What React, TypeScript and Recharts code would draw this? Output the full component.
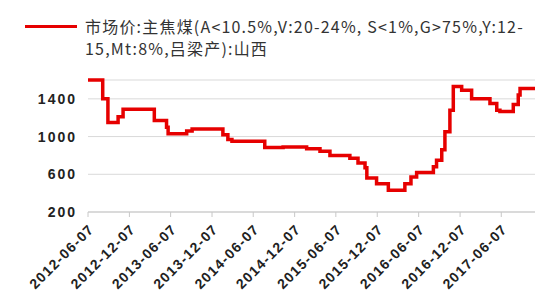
import React from 'react';
import { LineChart, Line, XAxis, YAxis, CartesianGrid } from 'recharts';

document.body.style.margin = '0';

// price change points (step series)
const changeDates = [
  '2012-06-07', '2012-08-11', '2012-09-03', '2012-10-18', '2012-11-09',
  '2013-03-27', '2013-05-20', '2013-05-27', '2013-08-17', '2013-09-10',
  '2014-01-24', '2014-02-15', '2014-03-05', '2014-07-28', '2014-10-17',
  '2015-01-29', '2015-03-29', '2015-05-12', '2015-08-08', '2015-09-13',
  '2015-10-14', '2015-10-22', '2015-12-04', '2016-01-25', '2016-04-07',
  '2016-05-04', '2016-05-29', '2016-08-11', '2016-08-25', '2016-09-17',
  '2016-10-01', '2016-10-23', '2016-11-07', '2016-12-14', '2017-01-27',
  '2017-04-18', '2017-05-18', '2017-06-01', '2017-07-30', '2017-08-21',
  '2017-08-29', '2017-11-03',
];
const prices = [
  1600, 1400, 1150, 1210, 1290,
  1170, 1100, 1030, 1060, 1080,
  1020, 970, 950, 885, 890,
  870, 845, 800, 770, 720,
  670, 560, 500, 430, 500,
  570, 620, 680, 750, 860,
  1050, 1280, 1530, 1490, 1400,
  1350, 1280, 1265, 1340, 1440,
  1510, 1510,
];

const tickDates = [
  '2012-06-07', '2012-12-07', '2013-06-07', '2013-12-07', '2014-06-07', '2014-12-07',
  '2015-06-07', '2015-12-07', '2016-06-07', '2016-12-07', '2017-06-07',
];
const yTicks = [200, 600, 1000, 1400];

const seriesName = '市场价:主焦煤(A<10.5%,V:20-24%, S<1%,G>75%,Y:12-';
const seriesName2 = '15,Mt:8%,吕梁产):山西';

const toTs = (s: string) => new Date(s).getTime();
const data = changeDates.map((d, i) => ({ t: toTs(d), price: prices[i] }));
const xTicks = tickDates.map(toTs);

const DateTick = (props: any) => {
  const { x, y, payload } = props;
  const label = new Date(payload.value).toISOString().slice(0, 10);
  const ax = x + 7;
  const ay = y + 11;
  return (
    <text
      x={ax}
      y={ay}
      textAnchor="end"
      transform={`rotate(-45 ${ax} ${ay})`}
      fontSize={14}
      fontWeight="bold"
      letterSpacing={1.3}
      fill="#222"
      fontFamily="Liberation Sans, Arial, sans-serif"
    >
      {label}
    </text>
  );
};

export default function App() {
  return (
    <div style={{ position: 'relative', width: 550, height: 300, background: '#fff' }}>
      <div
        style={{
          position: 'absolute', left: 25, top: 15, display: 'flex',
          fontFamily: '"Noto Sans CJK SC", "Liberation Sans", sans-serif',
          fontSize: 16, lineHeight: '22px', letterSpacing: 1.2, color: '#333',
        }}
      >
        <div style={{ width: 52, height: 3, background: '#e60000', marginTop: 10, marginRight: 8 }} />
        <div>
          <div>{seriesName}</div>
          <div>{seriesName2}</div>
        </div>
      </div>
      <LineChart width={550} height={300} data={data} margin={{ top: 80, right: 15, left: 0, bottom: 0 }}>
        <CartesianGrid horizontal vertical={false} stroke="#d9d9d9" />
        <XAxis
          dataKey="t"
          type="number"
          scale="time"
          domain={[toTs('2012-06-07'), toTs('2017-11-03')]}
          ticks={xTicks}
          tick={<DateTick />}
          height={88}
          stroke="#c8c8c8"
          tickSize={5}
          interval={0}
        />
        <YAxis
          domain={[200, 1600]}
          ticks={yTicks}
          width={88}
          axisLine={false}
          tickLine={false}
          tickMargin={5}
          tick={{ fontSize: 14, fontWeight: 'bold', letterSpacing: 2, fill: '#222', fontFamily: 'Liberation Sans, Arial, sans-serif' }}
        />
        <Line
          type="stepAfter"
          dataKey="price"
          stroke="#e60000"
          strokeWidth={3.5}
          dot={false}
          isAnimationActive={false}
        />
      </LineChart>
    </div>
  );
}
